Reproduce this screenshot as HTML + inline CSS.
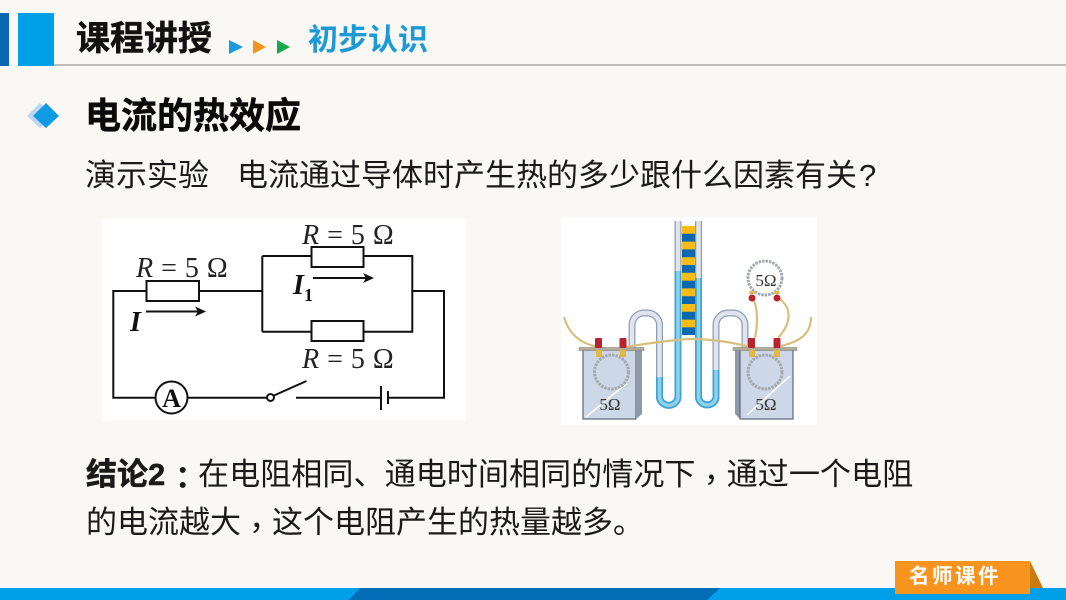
<!DOCTYPE html>
<html lang="zh-CN"><head><meta charset="utf-8">
<style>
html,body{margin:0;padding:0;background:#f9f8f4}
#p{position:relative;width:1066px;height:600px;overflow:hidden;background:#f9f8f4;font-family:"Liberation Sans","Noto Sans CJK SC",sans-serif;color:#111}
.t{position:absolute;white-space:nowrap;line-height:1}
.c{font-family:"Noto Sans CJK TC",sans-serif;position:relative;top:6px}
.h{-webkit-text-stroke:.5px currentColor}
svg{position:absolute;left:0;top:0}
</style></head><body><div id="p">
<svg width="1066" height="600" viewBox="0 0 1066 600">
<rect x="54" y="64" width="1012" height="2" fill="#bdbdbb"/>
<rect x="0" y="13" width="9" height="53" fill="#0b68b0"/>
<rect x="18" y="13" width="36" height="53" fill="#00a0e9"/>
<polygon points="229,40 243,47 229,54" fill="#1a9be0"/>
<polygon points="253,40 266,47 253,54" fill="#f7931e"/>
<polygon points="277,40 290,47 277,54" fill="#17a84b"/>
<polygon points="27,116 40,103 53,116 40,128" fill="#bcd6f0"/>
<polygon points="33,116 46,103 59,116 46,128" fill="#0f9be3"/>
<rect x="0" y="588" width="1066" height="12" fill="#00a0e9"/>
<polygon points="360,588 720,588 707,600 349,600" fill="#036eb8"/>
<polygon points="1030,561 1043,588 1030,588" fill="#c97c0c"/>
<rect x="895" y="561" width="135" height="33" fill="#f7941d"/>

<!-- circuit -->
<rect x="102" y="218" width="364" height="203" fill="#fff"/>
<g fill="none" stroke="#111" stroke-width="2">
<path d="M146.500 291H113.300V397.700H155M187.500 397.700H267M296 397.700H381M388 397.700H444V291H412.300M199 291H262.300M262.300 256V331.700M262.300 256H311.500M363.500 256H412.300V331.700H363.500M311.500 331.700H262.300"/>
<rect x="146.500" y="281" width="52.500" height="20"/>
<rect x="311.500" y="247" width="52" height="20"/>
<rect x="311.500" y="321" width="52" height="20"/>
<circle cx="171.500" cy="397.500" r="16"/>
<circle cx="270.500" cy="397.500" r="3.500"/>
<path d="M274 395.500L306.500 381M381 386V410M388 391V404M146 311.500H203M313 278H371"/>
</g>
<polygon points="206,311.500 195,306.500 198,311.500 195,316.500" fill="#111"/>
<polygon points="374,278 363,273 366,278 363,283" fill="#111"/>
<g font-family="Liberation Serif,serif" font-size="28" fill="#222" word-spacing="1">
<text x="136" y="277"><tspan font-style="italic">R</tspan> = 5 Ω</text>
<text x="302" y="244"><tspan font-style="italic">R</tspan> = 5 Ω</text>
<text x="302" y="368"><tspan font-style="italic">R</tspan> = 5 Ω</text>
<text x="130" y="331" font-weight="bold" font-style="italic" fill="#111">I</text>
<text x="293" y="294" font-weight="bold" font-style="italic" fill="#111">I</text>
<text x="304" y="301" font-weight="bold" font-size="18" fill="#111">1</text>
<text x="171.500" y="407" font-weight="bold" font-size="26" text-anchor="middle" fill="#111">A</text>
</g>

<!-- apparatus -->
<rect x="561" y="217" width="256" height="208" fill="#fff"/>
<g fill="none">
<rect x="682" y="226" width="13" height="109" fill="#0b68ad"/>
<path d="M688.500 226V335" stroke="#f7bd16" stroke-width="13" stroke-dasharray="7.800 7.800"/>
<path d="M632 350V324A12 12 0 0 1 644 313H647A12 12 0 0 1 659.500 325V398A9.500 9.500 0 0 0 678 398V221" stroke="#8c9db5" stroke-width="7"/>
<path d="M632 350V324A12 12 0 0 1 644 313H647A12 12 0 0 1 659.500 325V398A9.500 9.500 0 0 0 678 398V221" stroke="#dfe4ed" stroke-width="4.500"/>
<path d="M659.500 377V398A9.500 9.500 0 0 0 678 398V271" stroke="#3ea6d6" stroke-width="7"/>
<path d="M659.500 377V398A9.500 9.500 0 0 0 678 398V271" stroke="#8fd0ea" stroke-width="3.500"/>
<path d="M745 350V324A12 12 0 0 0 733 313H729A12 12 0 0 0 716 325V398A9 9 0 0 1 698.500 398V221" stroke="#8c9db5" stroke-width="7"/>
<path d="M745 350V324A12 12 0 0 0 733 313H729A12 12 0 0 0 716 325V398A9 9 0 0 1 698.500 398V221" stroke="#dfe4ed" stroke-width="4.500"/>
<path d="M716 370V398A9 9 0 0 1 698.500 398V278" stroke="#3ea6d6" stroke-width="7"/>
<path d="M716 370V398A9 9 0 0 1 698.500 398V278" stroke="#8fd0ea" stroke-width="3.500"/>
</g>
<!-- beakers -->
<g>
<rect x="583" y="350" width="53" height="69" fill="#ccd7e8" stroke="#5c6878" stroke-width="1.200"/>
<polygon points="636,350 642,350 642,414 636,419" fill="#8d98a8"/>
<rect x="579" y="347.500" width="65" height="3" fill="#b2ab98" stroke="#777" stroke-width=".5"/>
<path d="M586 417L627 383" stroke="#fff" stroke-width="1.500"/>
<polygon points="735,350 740,350 740,419 735,414" fill="#8d98a8"/>
<rect x="740" y="350" width="53" height="69" fill="#ccd7e8" stroke="#5c6878" stroke-width="1.200"/>
<rect x="733" y="347.500" width="64" height="3" fill="#b2ab98" stroke="#777" stroke-width=".5"/>
<path d="M747 415L790 376" stroke="#fff" stroke-width="1.500"/>
</g>
<g fill="none" stroke="#a3a9ae" stroke-width="3" stroke-dasharray="2.500 1">
<circle cx="611.500" cy="372" r="17"/>
<circle cx="765" cy="372" r="17"/>
<circle cx="765" cy="278" r="17"/>
</g>
<g fill="none" stroke="#d8bf7c" stroke-width="2.200">
<path d="M564 317C569 335 582 344 598 347"/>
<path d="M625 347C650 343 670 340 690 339C715 339 735 343 750 347"/>
<path d="M755 338C758 322 758 310 753 298"/>
<path d="M778 338C790 325 794 308 778 298"/>
<path d="M781 346C797 342 811 336 811 317"/>
</g>
<g fill="#e2b93f">
<rect x="596" y="350" width="6" height="7"/><rect x="620" y="350" width="6" height="7"/>
<rect x="749" y="350" width="6" height="7"/><rect x="774" y="350" width="6" height="7"/>
<rect x="749.500" y="291" width="5" height="3"/><rect x="774.500" y="291" width="5" height="3"/>
</g>
<g fill="#b8232c">
<rect x="595" y="338" width="7" height="10" rx="1"/><rect x="619.500" y="338" width="7" height="10" rx="1"/>
<rect x="748" y="338" width="7" height="10" rx="1"/><rect x="773.500" y="338" width="7" height="10" rx="1"/>
<circle cx="752" cy="298" r="3.500"/><circle cx="777" cy="298" r="3.500"/>
</g>
<g font-family="Liberation Serif,serif" font-size="17" fill="#333" text-anchor="middle">
<text x="610" y="410">5Ω</text><text x="766" y="410">5Ω</text><text x="766" y="286">5Ω</text>
</g>
</svg>

<div class="t h" style="left:76px;top:22px;font-size:34px;font-weight:700;color:#111">课程讲授</div>
<div class="t" style="left:308px;top:26px;font-size:30px;font-weight:700;color:#1c9ad8">初步认识</div>
<div class="t h" style="left:85px;top:98px;font-size:36px;font-weight:700;color:#0a0a0a">电流的热效应</div>
<div class="t" style="left:85px;top:160px;font-size:31px;color:#1a1a1a">演示实验</div>
<div class="t" style="left:237px;top:160px;font-size:31px;color:#1a1a1a">电流通过导体时产生热的多少跟什么因素有关<span style="margin-left:2px">?</span></div>
<div class="t" style="left:86px;top:456px;font-size:31px;color:#1a1a1a"><b class="h">结论2</b><b class="c" lang="zh-TW" style="margin-left:2px;top:4px">&#xFF1A;</b></div>
<div class="t" style="left:198px;top:456px;font-size:31.100px;color:#1a1a1a">在电阻相同、通电时间相同的情况下<span class="c" lang="zh-TW">&#xFF0C;</span>通过一个电阻</div>
<div class="t" style="left:86px;top:504px;font-size:31px;color:#1a1a1a">的电流越大<span class="c" lang="zh-TW">&#xFF0C;</span>这个电阻产生的热量越多。</div>
<div class="t" style="left:909px;top:567px;font-size:20.500px;font-weight:700;letter-spacing:2.500px;color:#fff">名师课件</div>
</div></body></html>
